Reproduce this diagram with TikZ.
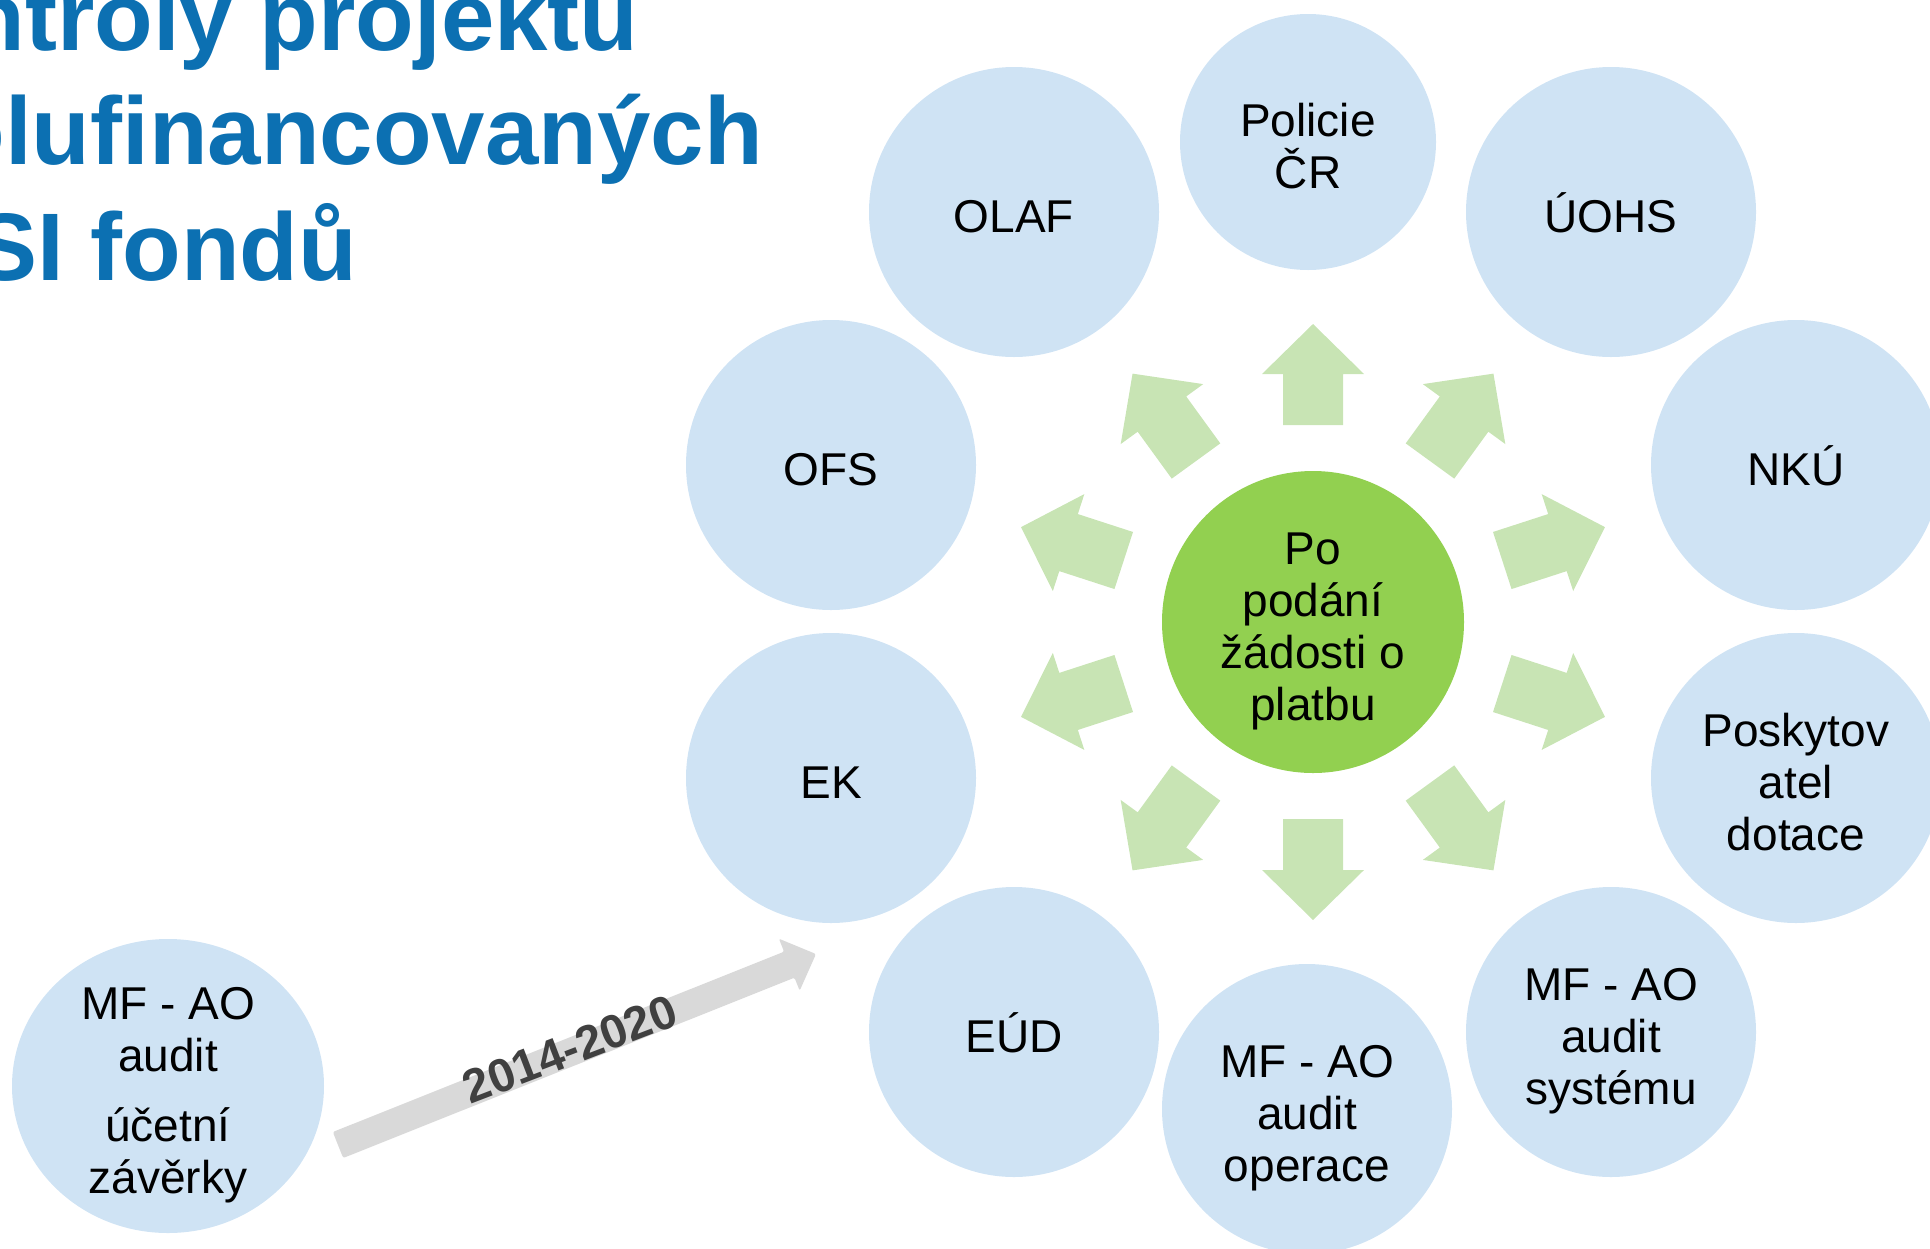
\documentclass[tikz,border=0pt]{standalone}
\usepackage{fontspec}
\setmainfont{Liberation Sans}
\usetikzlibrary{calc,shapes.geometric}
\definecolor{titleblue}{RGB}{12,112,178}
\definecolor{circblue}{RGB}{207,227,244}
\definecolor{centergreen}{RGB}{146,208,80}
\definecolor{arrowgreen}{RGB}{200,228,180}
\definecolor{grayarrow}{RGB}{217,217,217}
\definecolor{yeartext}{RGB}{64,64,64}
\newcommand{\tstrut}{\rule{0pt}{50pt}}
\newcommand{\dstrut}{\rule[-10pt]{0pt}{10pt}}
\begin{document}
\begin{tikzpicture}[x=1pt,y=-1pt,
  bubble/.style={circle, fill=circblue, minimum size=290pt, inner sep=0pt, align=center,
    font=\fontsize{46}{52}\selectfont, text=black},
  titletext/.style={anchor=base west, inner sep=0pt, text=titleblue,
    font=\fontsize{96}{115}\bfseries\selectfont},
  hub/.style={circle, fill=centergreen, minimum size=302pt, inner sep=0pt, align=center,
    font=\fontsize{46}{52}\selectfont, text=black},
  blockarrow/.style={fill=arrowgreen}
]
\useasboundingbox (0,0) rectangle (1930,1248);
\clip (0,0) rectangle (1930,1248);

% title
\node[titletext] (t1) at (25,50) {\llap{Kon}troly projektů};
\node[titletext] (t2) at (5,164) {\llap{spo}lufinancovaných};
\node[titletext] (t3) at (-27,280) {\llap{z E}SI fondů};

% surrounding bubbles
\node[bubble] (olaf) at (1014,212) {\tstrut OLAF\dstrut};
\node[bubble, minimum size=256pt] (policie) at (1308,142) {\tstrut Policie\\ČR\dstrut};
\node[bubble] (uohs) at (1611,212) {\tstrut ÚOHS\dstrut};
\node[bubble] (nku) at (1796,465) {\tstrut NKÚ\dstrut};
\node[bubble] (posk) at (1796,778) {\tstrut Poskytov\\atel\\dotace\dstrut};
\node[bubble] (sys) at (1611,1032) {\tstrut MF - AO\\audit\\systému\dstrut};
\node[bubble] (oper) at (1307,1109) {\tstrut MF - AO\\audit\\operace\dstrut};
\node[bubble] (eud) at (1014,1032) {\tstrut EÚD\dstrut};
\node[bubble] (ek) at (831,778) {\tstrut EK\dstrut};
\node[bubble] (ofs) at (831,465) {\tstrut OFS\dstrut};
\node[bubble, ellipse, inner sep=-20pt, minimum width=312pt, minimum height=294pt] (uz) at (168,1086)
  {\tstrut MF - AO\\audit\\[18pt]účetní\\závěrky\dstrut};

% centre
\node[hub] (c) at (1313,622) {\tstrut Po\\podání\\žádosti o\\platbu\dstrut};

% green block arrows
\foreach \a in {90,-90}{
  \fill[blockarrow, shift={(c.center)}, rotate=\a]
    (197,-30) -- (248,-30) -- (248,-51) -- (298,0) -- (248,51) -- (248,30) -- (197,30) -- cycle;
}
\foreach \a in {54,18,-18,-54,-126,-162,162,126}{
  \fill[blockarrow, shift={(c.center)}, rotate=\a]
    (199,-30) -- (257,-30) -- (257,-51) -- (307,0) -- (257,51) -- (257,30) -- (199,30) -- cycle;
}

% grey timeline arrow
\coordinate (gt) at (338,1145);
\coordinate (gh) at (816,954);
\coordinate (gb) at ($(gt)!486pt!(gh)$);
\fill[grayarrow, rounded corners=2pt]
  ($(gt)!14pt!90:(gh)$) -- ($(gb)!14pt!90:(gh)$) -- ($(gb)!28pt!90:(gh)$) -- (gh)
  -- ($(gb)!28pt!-90:(gh)$) -- ($(gb)!14pt!-90:(gh)$) -- ($(gt)!14pt!-90:(gh)$) -- cycle;
\node[rotate=21, inner sep=0pt, text=yeartext, font=\fontsize{47}{54}\bfseries\selectfont]
  (yr) at (570,1049) {2014-2020};
\end{tikzpicture}
\end{document}
